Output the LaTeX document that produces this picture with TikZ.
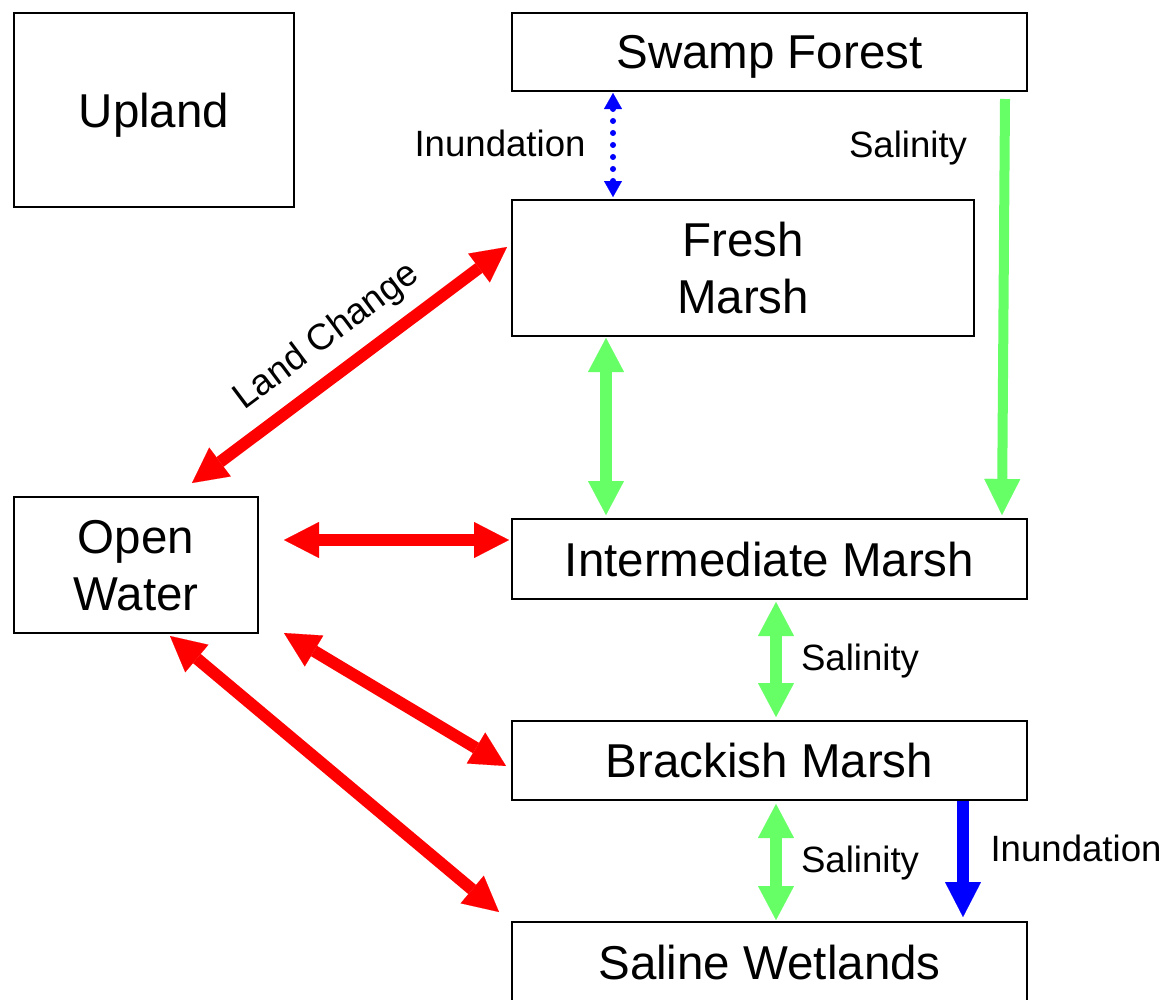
\documentclass[tikz,border=0pt]{standalone}
\usepackage{fontspec}
\setmainfont{Liberation Sans}
\usetikzlibrary{arrows.meta,calc}
\definecolor{lgreen}{HTML}{66FF66}
\definecolor{rred}{HTML}{FF0000}
\definecolor{bblue}{HTML}{0000FF}
\begin{document}
\begin{tikzpicture}[x=1pt,y=-1pt,
  box/.style={draw=black,line width=2pt,inner sep=0pt,align=center,text depth=0pt,
    font=\fontsize{47.5}{57}\selectfont},
  lbl/.style={inner sep=0pt,font=\fontsize{36.6}{44}\selectfont},
  redarr/.style={draw=rred,line width=12pt,{Triangle[length=35pt,width=36pt,line width=0.1pt]}-{Triangle[length=35pt,width=36pt,line width=0.1pt]}},
  greenarr/.style={draw=lgreen,line width=12pt,{Triangle[length=34pt,width=36pt,line width=0.1pt]}-{Triangle[length=34pt,width=36pt,line width=0.1pt]}},
  greenone/.style={draw=lgreen,line width=10pt,-{Triangle[length=36pt,width=36pt,line width=0.1pt]}},
  blueone/.style={draw=bblue,line width=12pt,-{Triangle[length=35pt,width=36pt,line width=0.1pt]}},
  bluedot/.style={draw=bblue,line width=6pt,line cap=round,dash pattern=on 0pt off 12pt,
    {Triangle[length=16pt,width=18pt,line width=0.1pt]}-{Triangle[length=16pt,width=18pt,line width=0.1pt]}}
]
\useasboundingbox (0,0) rectangle (1166,999);
\fill[white] (0,0) rectangle (1166,999);

\node[box,minimum width=280pt,minimum height=194pt] (up) at (154,110) {Upland};
\node[box,minimum width=515pt,minimum height=78pt] (sf) at (769.5,52) {Swamp Forest};
\node[box,minimum width=462pt,minimum height=136pt] (fm) at (743,268) {Fresh\\Marsh};
\node[box,minimum width=244pt,minimum height=136pt] (ow) at (136,565) {Open\\Water};
\node[box,minimum width=515pt,minimum height=80pt] (im) at (769.5,559) {Intermediate Marsh};
\node[box,minimum width=515pt,minimum height=79pt] (bm) at (769.5,760.5) {Brackish Marsh};
\node[box,minimum width=515pt,minimum height=80pt] (sw) at (769.5,962) {Saline Wetlands};

% blue dotted inundation
\draw[bluedot] ($(sf.south west)+(102,1)$) -- ($(fm.north west)+(102,-2)$);
\node[lbl] (linund) at (500,143) {Inundation};

% long green salinity
\draw[greenone] ($(sf.south east)+(-23,7)$) -- ($(im.north east)+(-26,-3)$);
\node[lbl] (lsal1) at (908,148) {Salinity};

% green fresh-intermediate
\draw[greenarr] ($(fm.south west)+(95,1)$) -- ($(im.north west)+(95,-3)$);

% green intermediate-brackish
\draw[greenarr] ($(im.south west)+(265,2)$) -- ($(bm.north west)+(265,-3)$);
\node[lbl] (lsal2) at (860,661) {Salinity};

% green brackish-saline
\draw[greenarr] ($(bm.south west)+(265,3)$) -- ($(sw.north west)+(265,-1)$);
\node[lbl] (lsal3) at (860,863) {Salinity};

% blue inundation
\draw[blueone] ($(bm.south east)+(-65,0)$) -- ($(sw.north east)+(-65,-4)$);
\node[lbl] (linund2) at (1076,848) {Inundation};

% red arrows
\draw[redarr] ($(ow.north east)+(25,44)$) -- ($(im.north west)+(-2,22)$);
\draw[redarr] ($(ow.north)+(56,-13)$) -- ($(fm.north west)+(-4,48)$);
\node[lbl,rotate=36.8] (lland) at (327,337) {Land Change};
\draw[redarr] ($(ow.south east)+(25,-1)$) -- ($(bm.west)+(-5,5.5)$);
\draw[redarr] ($(ow.south)+(34,2)$) -- ($(sw.north west)+(-12,-9)$);
\end{tikzpicture}
\end{document}
